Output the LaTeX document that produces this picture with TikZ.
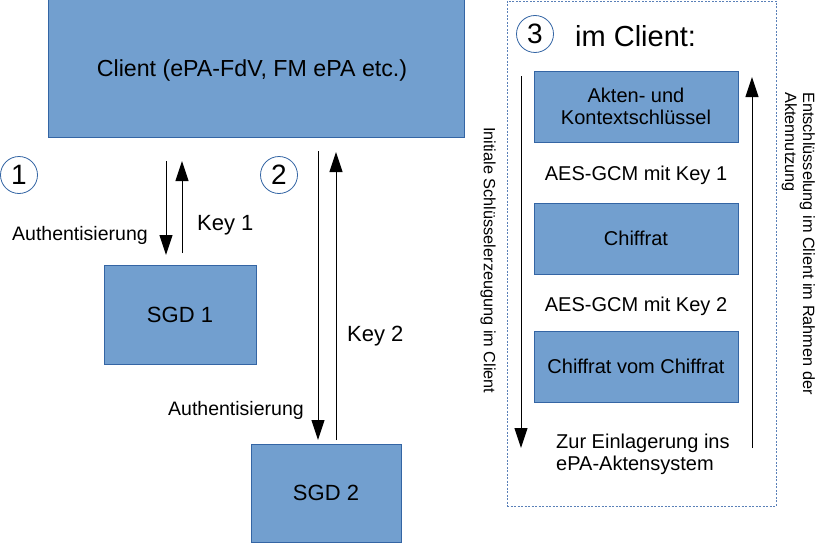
\documentclass[tikz,border=0pt]{standalone}
\usepackage{fontspec}
\setmainfont{Liberation Sans}
\usetikzlibrary{arrows.meta}
\definecolor{boxfill}{HTML}{729FCF}
\definecolor{boxline}{HTML}{3465A4}
\definecolor{dashline}{HTML}{5A80B8}
\begin{document}
\begin{tikzpicture}[x=1pt,y=-1pt,
  bluebox/.style={draw=boxline, fill=boxfill, line width=1pt, inner sep=0pt, align=center, text=black},
  num/.style={circle, draw=boxline, fill=white, line width=0.8pt, minimum size=37pt, inner sep=0pt, font=\fontsize{28}{30}\selectfont},
  arr/.style={-{Triangle[length=20pt,width=13pt]}, line width=1pt},
  lbl/.style={inner sep=0pt, anchor=base west},
  f20/.style={font=\fontsize{20}{22}\selectfont},
  f22/.style={font=\fontsize{22}{25}\selectfont}]
\useasboundingbox (0,0) rectangle (832,543);
% main boxes
\node[bluebox, minimum width=416pt, minimum height=137pt] (client) at (256,68.5) {};
\node[inner sep=0pt, font=\fontsize{23.2}{26}\selectfont] (clientt) at (252,70) {Client (ePA-FdV, FM ePA etc.)};
\node[bluebox, minimum width=152pt, minimum height=99pt, f22] (sgd1) at (180,314.5) {SGD 1};
\node[bluebox, minimum width=150pt, minimum height=98pt, f22] (sgd2) at (326,493) {SGD 2};
% numbers
\node[num] (n1) at (19,175) {1};
\node[num] (n2) at (279,175) {2};
% arrows left part
\coordinate (a1s) at (166,161);
\coordinate (a1e) at (166,255);
\coordinate (b1s) at (182,253);
\coordinate (b1e) at (182,161);
\draw[arr] (a1s) -- (a1e);
\draw[arr] (b1s) -- (b1e);
\coordinate (a2s) at (318,151);
\coordinate (a2e) at (318,440);
\coordinate (b2s) at (336,440);
\coordinate (b2e) at (336,152);
\draw[arr] (a2s) -- (a2e);
\draw[arr] (b2s) -- (b2e);
\node[lbl, font=\fontsize{19.5}{22}\selectfont] (auth1) at (12,240.5) {Authentisierung};
\node[lbl, f22] (key1) at (197,230) {Key 1};
\node[lbl, f22] (key2) at (347,341.5) {Key 2};
\node[lbl, font=\fontsize{19.5}{22}\selectfont] (auth2) at (168,415.5) {Authentisierung};
% right frame
\node[draw=dashline, dash pattern=on 2pt off 1.5pt, line width=0.8pt, minimum width=269pt, minimum height=505pt, inner sep=0pt] (frame) at (641.5,253.5) {};
\node[num] (n3) at (535,34) {3};
\node[lbl, font=\fontsize{29}{32}\selectfont] (imc) at (575,47) {im Client:};
\node[bluebox, minimum width=204pt, minimum height=71pt, f20] (akten) at (636,106.5) {Akten- und\\Kontextschlüssel};
\node[inner sep=0pt, anchor=base, f20] (aes1) at (636,180) {AES-GCM mit Key 1};
\node[bluebox, minimum width=204pt, minimum height=71pt, f20] (chif) at (636,238.5) {Chiffrat};
\node[inner sep=0pt, anchor=base, f20] (aes2) at (636,311.5) {AES-GCM mit Key 2};
\node[bluebox, minimum width=204pt, minimum height=71pt, f20] (cvc) at (636,366.5) {Chiffrat vom Chiffrat};
\node[inner sep=0pt, anchor=north west, align=left, f20] (zur) at (556,434) {Zur Einlagerung ins\\ePA-Aktensystem};
\coordinate (d1) at (521,76);
\coordinate (d2) at (521,448);
\coordinate (u1) at (752,448);
\coordinate (u2) at (752,77);
\draw[arr] (d1) -- (d2);
\draw[arr] (u1) -- (u2);
\node[inner sep=0pt, rotate=-90, anchor=west, font=\fontsize{16.3}{18}\selectfont] (initt) at (488,127) {Initiale Schlüsselerzeugung im Client};
\node[inner sep=0pt, rotate=-90, anchor=north west, align=left, font=\fontsize{16.3}{18}\selectfont] (entt) at (815,92) {Entschlüsselung im Client im Rahmen der\\Aktennutzung};
\end{tikzpicture}
\end{document}
